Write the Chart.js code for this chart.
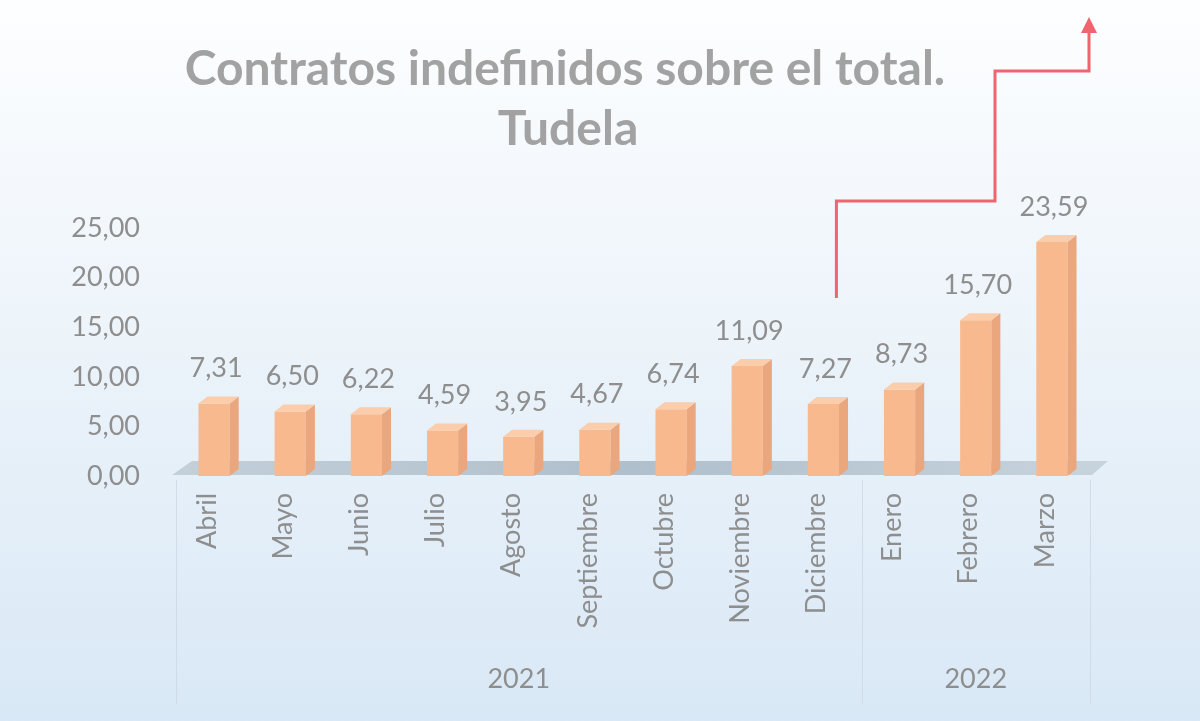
<!DOCTYPE html>
<html lang="es">
<head>
<meta charset="utf-8">
<title>Contratos indefinidos sobre el total. Tudela</title>
<script src="https://cdn.jsdelivr.net/npm/chart.js@4.4.1/dist/chart.umd.min.js"></script>
<style>
    html, body { margin: 0; padding: 0; }
    body { width: 1200px; height: 721px; overflow: hidden; }
    #wrap { position: relative; width: 1200px; height: 721px; }
</style>
</head>
<body>
<div id="wrap"><canvas id="barChart"></canvas></div>
<script>
// datos
const meses = ['Abril', 'Mayo', 'Junio', 'Julio', 'Agosto', 'Septiembre', 'Octubre', 'Noviembre', 'Diciembre', 'Enero', 'Febrero', 'Marzo'];
const valores = [7.31, 6.50, 6.22, 4.59, 3.95, 4.67, 6.74, 11.09, 7.27, 8.73, 15.70, 23.59];
const anios = ['2021', '2022'];
const mesesPorAnio = [9, 3];
const tituloLineas = ['Contratos indefinidos sobre el total.', 'Tudela'];

const FONT = 'Lato, "Open Sans", sans-serif';
const GRIS = '#8e8e8e';
const fmt = v => v.toFixed(2).replace('.', ',');

// fondo degradado
const fondo = {
    id: 'fondo',
    beforeDraw(chart) {
        const { ctx, width, height } = chart;
        const g = ctx.createLinearGradient(0, 0, 0, height);
        g.addColorStop(0, '#fdfeff');
        g.addColorStop(0.45, '#edf4fa');
        g.addColorStop(1, '#d9e8f6');
        ctx.save();
        ctx.fillStyle = g;
        ctx.fillRect(0, 0, width, height);
        ctx.restore();
    }
};

// suelo 3D bajo las barras
const suelo = {
    id: 'suelo',
    beforeDatasetsDraw(chart) {
        const { ctx, chartArea: a } = chart;
        const y0 = chart.scales.y.getPixelForValue(0);
        ctx.save();
        const g = ctx.createLinearGradient(a.left, 0, a.right, 0);
        g.addColorStop(0, '#c3d0da');
        g.addColorStop(0.5, '#afbfcb');
        g.addColorStop(1, '#c6d3dd');
        ctx.fillStyle = g;
        ctx.beginPath();
        ctx.moveTo(a.left - 4, y0 - 1);
        ctx.lineTo(a.right + 2, y0 - 1);
        ctx.lineTo(a.right + 18, y0 - 15);
        ctx.lineTo(a.left + 16, y0 - 15);
        ctx.closePath();
        ctx.fill();
        ctx.restore();
    }
};

// caras lateral y superior de las barras + etiquetas de datos
const cubo = {
    id: 'cubo',
    afterDatasetsDraw(chart) {
        const { ctx } = chart;
        const meta = chart.getDatasetMeta(0);
        const dx = 9, dy = 7;
        ctx.save();
        meta.data.forEach((bar, i) => {
            const l = bar.x - bar.width / 2, r = bar.x + bar.width / 2;
            const t = bar.y, b = bar.base;
            // lateral
            ctx.fillStyle = '#eaa67c';
            ctx.beginPath();
            ctx.moveTo(r, t); ctx.lineTo(r + dx, t - dy);
            ctx.lineTo(r + dx, b - dy); ctx.lineTo(r, b);
            ctx.closePath(); ctx.fill();
            // tapa
            ctx.fillStyle = '#fbcdab';
            ctx.beginPath();
            ctx.moveTo(l, t); ctx.lineTo(l + dx, t - dy);
            ctx.lineTo(r + dx, t - dy); ctx.lineTo(r, t);
            ctx.closePath(); ctx.fill();
            // etiqueta
            ctx.fillStyle = GRIS;
            ctx.font = '27px ' + FONT;
            ctx.textAlign = 'center';
            ctx.textBaseline = 'middle';
            ctx.fillText(fmt(valores[i]), bar.x + 2, t - dy - 28);
        });
        ctx.restore();
    }
};

// eje X en dos niveles (meses girados + años), título y flecha
const ejeX = {
    id: 'ejeX',
    afterDraw(chart) {
        const { ctx, chartArea: a } = chart;
        const x = chart.scales.x;
        const paso = x.getPixelForValue(1) - x.getPixelForValue(0);
        ctx.save();
        ctx.fillStyle = GRIS;
        ctx.font = '27px ' + FONT;
        meses.forEach((m, i) => {
            ctx.save();
            ctx.translate(x.getPixelForValue(i) - 7, a.bottom + 17);
            ctx.rotate(-Math.PI / 2);
            ctx.textAlign = 'right';
            ctx.textBaseline = 'middle';
            ctx.fillText(m, 0, 0);
            ctx.restore();
        });

        // separadores de grupo
        ctx.strokeStyle = 'rgba(205,218,230,0.9)';
        ctx.lineWidth = 1;
        let desde = 0;
        const bordes = [0];
        mesesPorAnio.forEach(n => { desde += n; bordes.push(desde); });
        bordes.forEach(k => {
            const px = Math.round(a.left + k * paso) + 0.5;
            ctx.beginPath();
            ctx.moveTo(px, a.bottom + 4);
            ctx.lineTo(px, a.bottom + 228);
            ctx.stroke();
        });
        ctx.textAlign = 'center';
        ctx.textBaseline = 'middle';
        anios.forEach((an, j) => {
            const cx = a.left + (bordes[j] + bordes[j + 1]) / 2 * paso;
            ctx.fillText(an, cx, a.bottom + 203);
        });

        // título
        ctx.fillStyle = '#a2a2a2';
        ctx.font = 'bold 48px ' + FONT;
        ctx.fillText(tituloLineas[0], 565, 70);
        ctx.fillText(tituloLineas[1], 568, 130);

        // flecha escalonada
        const x0 = x.getPixelForValue(8) + 13;
        ctx.strokeStyle = '#f0646f';
        ctx.fillStyle = '#f0646f';
        ctx.lineWidth = 3;
        ctx.lineJoin = 'miter';
        ctx.beginPath();
        ctx.moveTo(x0, 298);
        ctx.lineTo(x0, 201);
        ctx.lineTo(995, 201);
        ctx.lineTo(995, 71);
        ctx.lineTo(1089, 71);
        ctx.lineTo(1089, 32);
        ctx.stroke();
        ctx.beginPath();
        ctx.moveTo(1089, 17);
        ctx.lineTo(1081, 33);
        ctx.lineTo(1097, 33);
        ctx.closePath();
        ctx.fill();
        ctx.restore();
    }
};

new Chart(document.getElementById('barChart'), {
    type: 'bar',
    data: {
        labels: meses,
        datasets: [{
            data: valores,
            backgroundColor: '#f9b98e',
            borderWidth: 0,
            categoryPercentage: 1,
            barPercentage: 0.41
        }]
    },
    options: {
        responsive: true,
        maintainAspectRatio: false,
        animation: false,
        layout: {
            padding: { left: 0, right: 110, top: 228, bottom: 0 }
        },
        plugins: {
            legend: { display: false },
            tooltip: { enabled: false },
            title: { display: false }
        },
        scales: {
            x: {
                grid: { display: false },
                border: { display: false },
                ticks: { display: false },
                afterFit: s => { s.height = 245; }
            },
            y: {
                min: 0,
                max: 25,
                grid: { display: false, drawTicks: false },
                border: { display: false },
                ticks: {
                    stepSize: 5,
                    padding: 36,
                    color: GRIS,
                    font: { family: FONT, size: 27 },
                    callback: v => fmt(v)
                },
                afterFit: s => { s.width = 176; }
            }
        }
    },
    plugins: [fondo, suelo, cubo, ejeX]
});
</script>
</body>
</html>
